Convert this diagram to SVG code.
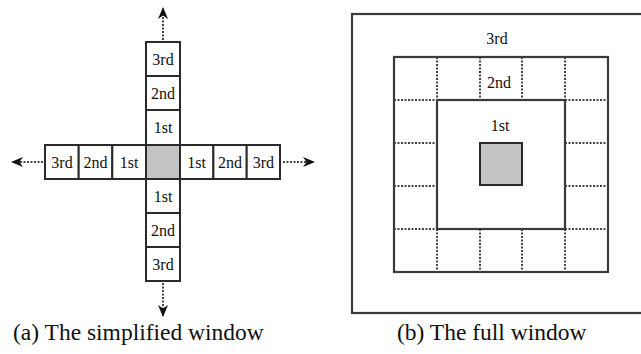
<svg xmlns="http://www.w3.org/2000/svg" width="641" height="354" viewBox="0 0 641 354">
<style>
.cell{fill:#fff;stroke:#2a2a2a;stroke-width:2}
.gray{fill:#c3c3c3;stroke:#2a2a2a;stroke-width:2}
.solid{fill:none;stroke:#3a3a3a;stroke-width:2.2}
.dot{fill:none;stroke:#444;stroke-width:2;stroke-dasharray:2 1.5}
.lbl{font-family:"Liberation Serif",serif;font-size:16px;fill:#111;text-anchor:middle}
.cap{font-family:"Liberation Serif",serif;font-size:23.5px;fill:#111}
</style>
<defs>
<marker id="ah" viewBox="0 0 12 10" refX="11" refY="5" markerWidth="12" markerHeight="10" markerUnits="userSpaceOnUse" orient="auto">
<path d="M0,0 L12,5 L0,10 L3.5,5 Z" fill="#111"/>
</marker>
</defs>
<rect width="641" height="354" fill="#fff"/>
<!-- (a) simplified window -->
<g id="a-up3"><rect class="cell" x="146" y="42" width="34" height="34"/><text class="lbl" x="163" y="65">3rd</text></g>
<g id="a-up2"><rect class="cell" x="146" y="76" width="34" height="34"/><text class="lbl" x="163" y="99">2nd</text></g>
<g id="a-up1"><rect class="cell" x="146" y="110" width="34" height="35"/><text class="lbl" x="163" y="133">1st</text></g>
<g id="a-dn1"><rect class="cell" x="146" y="179" width="34" height="34"/><text class="lbl" x="163" y="202">1st</text></g>
<g id="a-dn2"><rect class="cell" x="146" y="213" width="34" height="34"/><text class="lbl" x="163" y="236">2nd</text></g>
<g id="a-dn3"><rect class="cell" x="146" y="247" width="34" height="34"/><text class="lbl" x="163" y="270">3rd</text></g>
<g id="a-lf3"><rect class="cell" x="45" y="145" width="33.7" height="34"/><text class="lbl" x="62" y="168">3rd</text></g>
<g id="a-lf2"><rect class="cell" x="78.7" y="145" width="33.6" height="34"/><text class="lbl" x="95.5" y="168">2nd</text></g>
<g id="a-lf1"><rect class="cell" x="112.3" y="145" width="33.7" height="34"/><text class="lbl" x="129" y="168">1st</text></g>
<g id="a-rt1"><rect class="cell" x="180" y="145" width="33.4" height="34"/><text class="lbl" x="196.7" y="168">1st</text></g>
<g id="a-rt2"><rect class="cell" x="213.4" y="145" width="33.3" height="34"/><text class="lbl" x="230" y="168">2nd</text></g>
<g id="a-rt3"><rect class="cell" x="246.7" y="145" width="33.3" height="34"/><text class="lbl" x="263.3" y="168">3rd</text></g>
<g id="a-center"><rect class="gray" x="146" y="145" width="34" height="34"/></g>
<g id="a-arrows">
<line class="dot" x1="163" y1="40" x2="163" y2="8" marker-end="url(#ah)"/>
<line class="dot" x1="163" y1="283" x2="163" y2="316" marker-end="url(#ah)"/>
<line class="dot" x1="43" y1="162" x2="12" y2="162" marker-end="url(#ah)"/>
<line class="dot" x1="283" y1="162" x2="314" y2="162" marker-end="url(#ah)"/>
</g>
<g id="a-caption"><text class="cap" x="13" y="340">(a) The simplified window</text></g>
<!-- (b) full window -->
<g id="b-outer"><rect class="solid" x="352" y="14" width="360" height="299"/><text class="lbl" x="497" y="44">3rd</text></g>
<g id="b-ring2">
<rect class="solid" x="394" y="57" width="214" height="215"/>
<path class="dot" d="M437,57V100M480,57V100M522,57V100M565,57V100M437,229V272M480,229V272M522,229V272M565,229V272M394,100H437M394,143H437M394,186H437M394,229H437M565,100H608M565,143H608M565,186H608M565,229H608"/>
<text class="lbl" x="499" y="88">2nd</text>
</g>
<g id="b-ring1"><rect class="solid" x="437" y="100" width="128" height="129"/><text class="lbl" x="500" y="131">1st</text></g>
<g id="b-center"><rect class="gray" x="480" y="143" width="42" height="42"/></g>
<g id="b-caption"><text class="cap" x="397" y="340">(b) The full window</text></g>
</svg>
